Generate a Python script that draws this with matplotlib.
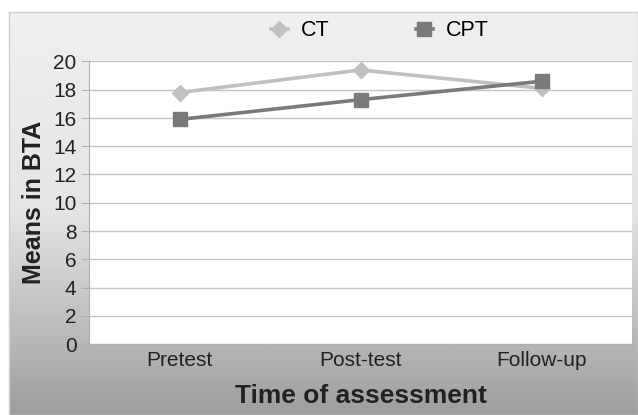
import numpy as np
import matplotlib
matplotlib.use("Agg")
import matplotlib.pyplot as plt
from matplotlib.colors import LinearSegmentedColormap

categories = ["Pretest", "Post-test", "Follow-up"]
ct_values = [17.8, 19.4, 18.1]
cpt_values = [15.9, 17.3, 18.6]
y_ticks = [0, 2, 4, 6, 8, 10, 12, 14, 16, 18, 20]

plt.rcParams['font.family'] = ['Liberation Sans', 'DejaVu Sans']

W, H = 638, 415
fig = plt.figure(figsize=(W / 100, H / 100), dpi=100)
fig.patch.set_facecolor("white")

# gradient panel
bg = fig.add_axes([9 / W, 0, 1 - 9 / W, 1 - 12 / H])
cmap = LinearSegmentedColormap.from_list("g", ["#f0f0f0", "#e4e4e4", "#9e9e9e"])
grad = np.linspace(0, 1, 256).reshape(-1, 1)
bg.imshow(grad, aspect="auto", cmap=cmap, extent=[0, 1, 0, 1], origin="upper")
bg.set_xticks([]); bg.set_yticks([])
for s in bg.spines.values():
    s.set_color("#cfcfcf")
    s.set_linewidth(1)

ax = fig.add_axes([89 / W, 1 - 344 / H, (632 - 89) / W, (344 - 61.5) / H])
ax.set_facecolor("white")
x = np.arange(len(categories))
ax.plot(x, ct_values, color="#c0c0c0", lw=2.6, marker="D", ms=8, mec="#c0c0c0", mfc="#c0c0c0", label="CT", zorder=3)
ax.plot(x, cpt_values, color="#7a7a7a", lw=2.6, marker="s", ms=10, mec="#7a7a7a", mfc="#7a7a7a", label="CPT", zorder=4)

ax.set_xlim(-0.5, 2.5)
ax.set_ylim(0, 20)
ax.set_yticks(y_ticks)
ax.set_yticklabels([str(v) for v in y_ticks], fontsize=15, color="#222222")
ax.yaxis.grid(True, color="#c4c4c4", lw=1)
ax.set_axisbelow(True)
ax.tick_params(axis="y", length=6, color="#b0b0b0", pad=3)

ax.set_xticks(x)
ax.set_xticklabels(categories, fontsize=15, color="#222222")
ax.set_xticks([-0.5, 0.5, 1.5, 2.5], minor=True)
ax.tick_params(axis="x", which="major", length=0, pad=5)
ax.tick_params(axis="x", which="minor", length=6, color="#b0b0b0")

for side in ["top", "right"]:
    ax.spines[side].set_visible(False)
ax.spines["left"].set_color("#b0b0b0")
ax.spines["bottom"].set_color("#b0b0b0")

ax.set_ylabel("Means in BTA", fontsize=18, fontweight="bold", color="#222222", labelpad=5)
ax.set_xlabel("Time of assessment", fontsize=19, fontweight="bold", color="#222222", labelpad=10)

fig.legend(loc="center", bbox_to_anchor=(0.595, 1 - 31 / H), ncol=2, frameon=False,
           fontsize=15.5, handlelength=0.8, columnspacing=4.0, handletextpad=0.6)

fig.savefig("out.png", dpi=100)
